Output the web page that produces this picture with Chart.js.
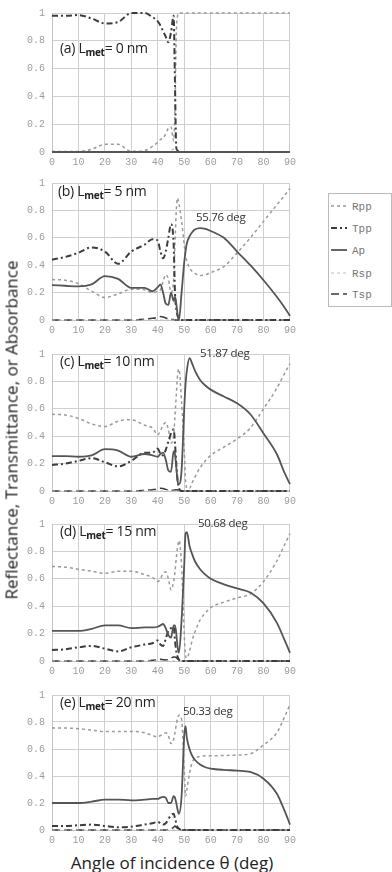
<!DOCTYPE html>
<html>
<head>
<meta charset="utf-8">
<script src="https://cdn.jsdelivr.net/npm/chart.js@4.4.1/dist/chart.umd.min.js"></script>
<style>
  body { margin: 0; background: #fff; }
  #wrap { position: relative; width: 392px; height: 872px; overflow: hidden; font-family: "Open Sans", sans-serif; }
  #wrap canvas { position: absolute; left: 0; }
  .plabel { position: absolute; font-size: 14px; color: #222; white-space: nowrap; letter-spacing: -0.3px; line-height: 16px; }
  .plabel sub { font-size: 10px; font-weight: 700; vertical-align: -3px; line-height: 0; }
  .peak { position: absolute; font-size: 11.5px; color: #333; white-space: nowrap; letter-spacing: -0.3px; line-height: 14px; }
  #ytitle { position: absolute; left: 11px; top: 430px; transform: translate(-50%, -50%) rotate(-90deg); font-size: 17px; color: #222; white-space: nowrap; }
  #xtitle { position: absolute; left: 172px; top: 862px; transform: translate(-50%, -50%); font-size: 17px; color: #222; white-space: nowrap; }
  #legend { position: absolute; left: 328px; top: 193px; }
  #legend text { font-family: "Liberation Mono", "DejaVu Sans Mono", monospace; font-size: 11px; fill: #777; }
</style>
</head>
<body>
<div id="wrap">
  <canvas id="c0" width="300" height="170" style="top:0px"></canvas>
  <canvas id="c1" width="300" height="168" style="top:170px"></canvas>
  <canvas id="c2" width="300" height="168" style="top:341px"></canvas>
  <canvas id="c3" width="300" height="168" style="top:511px"></canvas>
  <canvas id="c4" width="300" height="166" style="top:682px"></canvas>
  <div id="ytitle">Reflectance, Transmittance, or Absorbance</div>
  <div id="xtitle">Angle of incidence θ (deg)</div>
  <svg id="legend" width="64" height="114"></svg>
</div>
<script>
// angle of incidence (deg), shared by every curve
var angles = [0, 5, 10, 15, 20, 25, 30, 35, 38, 40, 41, 42, 43, 44, 45, 46, 46.5, 47, 47.5, 48, 49,
  50, 50.5, 51, 52, 53, 54, 56, 58, 60, 65, 70, 75, 80, 85, 88, 90];

var thickness = [0, 5, 10, 15, 20];
var panelLetters = ['a', 'b', 'c', 'd', 'e'];
var peakLabels = [null, '55.76 deg', '51.87 deg', '50.68 deg', '50.33 deg'];
var yTicks = [0, 0.2, 0.4, 0.6, 0.8, 1];
var seriesNames = ['Rpp', 'Tpp', 'Ap', 'Rsp', 'Tsp'];

// (a) Lmet = 0 nm
var rpp0 = [0.005, 0.003, 0.004, 0.02, 0.055, 0.055, 0.005, 0.01, 0.04, 0.07, 0.09, 0.1, 0.13, 0.17, 0.18, 0.08, 0.3, 0.85, 0.98, 1, 1,
  1, 1, 1, 1, 1, 1, 1, 1, 1, 1, 1, 1, 1, 1, 1, 1];
var tpp0 = [0.98, 0.98, 0.985, 0.96, 0.925, 0.935, 1, 1, 0.97, 0.94, 0.91, 0.87, 0.83, 0.79, 0.86, 0.98, 0.5, 0.03, 0.01, 0, 0,
  0, 0, 0, 0, 0, 0, 0, 0, 0, 0, 0, 0, 0, 0, 0, 0];
var ap0 = [0, 0, 0, 0, 0, 0, 0, 0, 0, 0, 0, 0, 0, 0, 0, 0, 0, 0, 0, 0, 0,
  0, 0, 0, 0, 0, 0, 0, 0, 0, 0, 0, 0, 0, 0, 0, 0];
var rsp0 = [0, 0, 0, 0, 0, 0, 0, 0, 0, 0, 0, 0, 0, 0, 0.01, 0.02, 0.01, 0, 0, 0, 0,
  0, 0, 0, 0, 0, 0, 0, 0, 0, 0, 0, 0, 0, 0, 0, 0];
var tsp0 = [0, 0, 0, 0, 0, 0, 0, 0, 0, 0, 0, 0, 0, 0, 0, 0, 0, 0, 0, 0, 0,
  0, 0, 0, 0, 0, 0, 0, 0, 0, 0, 0, 0, 0, 0, 0, 0];

// (b) Lmet = 5 nm
var rpp5 = [0.295, 0.29, 0.265, 0.21, 0.165, 0.19, 0.225, 0.22, 0.2, 0.21, 0.22, 0.28, 0.33, 0.3, 0.2, 0.3, 0.55, 0.8, 0.89, 0.85, 0.72,
  0.55, 0.47, 0.43, 0.38, 0.355, 0.34, 0.325, 0.33, 0.345, 0.39, 0.49, 0.6, 0.72, 0.84, 0.91, 0.96];
var tpp5 = [0.44, 0.46, 0.49, 0.53, 0.5, 0.41, 0.5, 0.55, 0.59, 0.58, 0.5, 0.45, 0.5, 0.6, 0.7, 0.55, 0.2, 0.08, 0.03, 0.01, 0,
  0, 0, 0, 0, 0, 0, 0, 0, 0, 0, 0, 0, 0, 0, 0, 0];
var ap5 = [0.255, 0.25, 0.245, 0.26, 0.32, 0.3, 0.235, 0.235, 0.21, 0.24, 0.26, 0.2, 0.12, 0.11, 0.2, 0.14, 0.17, 0.12, 0.04, 0, 0.2,
  0.42, 0.5, 0.56, 0.61, 0.64, 0.66, 0.67, 0.665, 0.65, 0.6, 0.5, 0.4, 0.29, 0.17, 0.09, 0.03];
var rsp5 = [0, 0, 0, 0, 0, 0, 0, 0, 0, 0, 0, 0, 0, 0, 0, 0, 0, 0, 0, 0, 0,
  0, 0, 0, 0, 0, 0, 0, 0, 0, 0, 0, 0, 0, 0, 0, 0];
var tsp5 = [0, 0, 0, 0, 0, 0, 0, 0.005, 0.012, 0.02, 0.025, 0.022, 0.015, 0.01, 0.005, 0.003, 0, 0, 0, 0, 0,
  0, 0, 0, 0, 0, 0, 0, 0, 0, 0, 0, 0, 0, 0, 0, 0];

// (c) Lmet = 10 nm
var rpp10 = [0.56, 0.555, 0.53, 0.49, 0.47, 0.51, 0.52, 0.48, 0.46, 0.41, 0.44, 0.48, 0.5, 0.45, 0.35, 0.4, 0.55, 0.7, 0.85, 0.89, 0.65,
  0.3, 0.08, 0.02, 0.02, 0.06, 0.1, 0.17, 0.22, 0.26, 0.32, 0.38, 0.46, 0.6, 0.75, 0.86, 0.93];
var tpp10 = [0.19, 0.2, 0.22, 0.24, 0.21, 0.18, 0.22, 0.28, 0.28, 0.31, 0.27, 0.26, 0.3, 0.36, 0.42, 0.45, 0.35, 0.2, 0.08, 0.02, 0,
  0, 0, 0, 0, 0, 0, 0, 0, 0, 0, 0, 0, 0, 0, 0, 0];
var ap10 = [0.255, 0.255, 0.25, 0.26, 0.305, 0.295, 0.25, 0.27, 0.26, 0.25, 0.27, 0.28, 0.23, 0.15, 0.14, 0.29, 0.27, 0.17, 0.07, 0.05, 0.15,
  0.6, 0.78, 0.88, 0.97, 0.93, 0.88, 0.81, 0.77, 0.74, 0.69, 0.64, 0.56, 0.42, 0.27, 0.13, 0.05];
var rsp10 = [0, 0, 0, 0, 0, 0, 0, 0, 0, 0, 0, 0, 0, 0, 0, 0, 0, 0, 0, 0, 0,
  0, 0, 0, 0, 0, 0, 0, 0, 0, 0, 0, 0, 0, 0, 0, 0];
var tsp10 = [0, 0, 0, 0, 0, 0, 0, 0.005, 0.01, 0.015, 0.02, 0.018, 0.012, 0.008, 0.005, 0.005, 0.008, 0.01, 0.008, 0.005, 0,
  0, 0, 0, 0, 0, 0, 0, 0, 0, 0, 0, 0, 0, 0, 0, 0];

// (d) Lmet = 15 nm
var rpp15 = [0.69, 0.685, 0.67, 0.655, 0.64, 0.655, 0.655, 0.63, 0.61, 0.58, 0.6, 0.64, 0.65, 0.6, 0.52, 0.58, 0.65, 0.75, 0.83, 0.88, 0.7,
  0.2, 0.04, 0.02, 0.07, 0.15, 0.21, 0.3, 0.35, 0.39, 0.43, 0.46, 0.49, 0.58, 0.73, 0.85, 0.93];
var tpp15 = [0.08, 0.085, 0.1, 0.11, 0.09, 0.07, 0.1, 0.12, 0.13, 0.15, 0.12, 0.11, 0.16, 0.22, 0.24, 0.25, 0.15, 0.07, 0.03, 0.01, 0,
  0, 0, 0, 0, 0, 0, 0, 0, 0, 0, 0, 0, 0, 0, 0, 0];
var ap15 = [0.22, 0.22, 0.22, 0.235, 0.26, 0.26, 0.24, 0.245, 0.245, 0.25, 0.26, 0.27, 0.24, 0.19, 0.17, 0.26, 0.26, 0.2, 0.1, 0.06, 0.3,
  0.7, 0.93, 0.94, 0.84, 0.78, 0.73, 0.67, 0.63, 0.6, 0.56, 0.53, 0.5, 0.42, 0.28, 0.15, 0.06];
var rsp15 = [0, 0, 0, 0, 0, 0, 0, 0, 0, 0, 0, 0, 0, 0, 0, 0, 0, 0, 0, 0, 0,
  0, 0, 0, 0, 0, 0, 0, 0, 0, 0, 0, 0, 0, 0, 0, 0];
var tsp15 = [0, 0, 0, 0, 0, 0, 0, 0, 0.005, 0.01, 0.012, 0.01, 0.008, 0.01, 0.02, 0.03, 0.03, 0.025, 0.015, 0.005, 0,
  0, 0, 0, 0, 0, 0, 0, 0, 0, 0, 0, 0, 0, 0, 0, 0];

// (e) Lmet = 20 nm
var rpp20 = [0.755, 0.755, 0.75, 0.74, 0.73, 0.73, 0.73, 0.72, 0.7, 0.69, 0.7, 0.71, 0.72, 0.7, 0.64, 0.67, 0.72, 0.78, 0.83, 0.85, 0.82,
  0.45, 0.25, 0.3, 0.42, 0.5, 0.53, 0.545, 0.55, 0.55, 0.552, 0.555, 0.565, 0.63, 0.72, 0.84, 0.93];
var tpp20 = [0.03, 0.03, 0.035, 0.04, 0.03, 0.02, 0.025, 0.04, 0.05, 0.06, 0.05, 0.04, 0.05, 0.08, 0.11, 0.12, 0.09, 0.05, 0.02, 0.01, 0,
  0, 0, 0, 0, 0, 0, 0, 0, 0, 0, 0, 0, 0, 0, 0, 0];
var ap20 = [0.2, 0.2, 0.2, 0.21, 0.225, 0.225, 0.22, 0.225, 0.23, 0.23, 0.24, 0.245, 0.24, 0.2, 0.2, 0.25, 0.24, 0.2, 0.15, 0.12, 0.25,
  0.7, 0.77, 0.68, 0.6, 0.55, 0.52, 0.485, 0.465, 0.455, 0.445, 0.44, 0.43, 0.38, 0.27, 0.14, 0.04];
var rsp20 = [0, 0, 0, 0, 0, 0, 0, 0, 0, 0, 0, 0, 0, 0, 0, 0, 0, 0, 0, 0, 0,
  0, 0, 0, 0, 0, 0, 0, 0, 0, 0, 0, 0, 0, 0, 0, 0];
var tsp20 = [0, 0, 0, 0, 0, 0, 0, 0, 0, 0, 0, 0, 0, 0.005, 0.01, 0.02, 0.03, 0.02, 0.01, 0.005, 0,
  0, 0, 0, 0, 0, 0, 0, 0, 0, 0, 0, 0, 0, 0, 0, 0];

var panels = [
  [rpp0, tpp0, ap0, rsp0, tsp0],
  [rpp5, tpp5, ap5, rsp5, tsp5],
  [rpp10, tpp10, ap10, rsp10, tsp10],
  [rpp15, tpp15, ap15, rsp15, tsp15],
  [rpp20, tpp20, ap20, rsp20, tsp20]
];

// line look for Rpp, Tpp, Ap, Rsp, Tsp
var lineStyles = [
  { color: '#9a9a9a', width: 1.5, dash: [3, 3] },
  { color: '#3c3c3c', width: 2, dash: [6, 3, 2, 3] },
  { color: '#555555', width: 1.8, dash: [] },
  { color: '#bbbbbb', width: 1.2, dash: [3, 3] },
  { color: '#3a3a3a', width: 1.5, dash: [8, 4] }
];

// text placed over each panel (label left/top, peak label left/top)
var labelPos = [[60, 40], [58, 183], [60, 353], [60, 523], [60, 694]];
var peakPos = [null, [196, 210], [200, 346], [198, 516], [183, 704]];

var tickFont = { family: '"Liberation Mono", monospace', size: 10 };

function buildDatasets(series) {
  var sets = [];
  // Ap first so it sits on top
  [2, 1, 0, 3, 4].forEach(function (k) {
    var st = lineStyles[k];
    sets.push({
      label: seriesNames[k],
      data: angles.map(function (a, i) { return { x: a, y: series[k][i] }; }),
      borderColor: st.color,
      borderWidth: st.width,
      borderDash: st.dash,
      fill: false,
      pointRadius: 0,
      cubicInterpolationMode: 'monotone',
      clip: 3
    });
  });
  return sets;
}

function makePanel(idx) {
  var ctx = document.getElementById('c' + idx);
  return new Chart(ctx, {
    type: 'line',
    data: { datasets: buildDatasets(panels[idx]) },
    options: {
      responsive: false,
      animation: false,
      layout: { padding: { top: 5, right: 7, left: 0, bottom: 0 } },
      plugins: { legend: { display: false }, tooltip: { enabled: false } },
      scales: {
        x: {
          type: 'linear', min: 0, max: 90,
          ticks: { stepSize: 10, color: '#9c9c9c', font: tickFont, padding: 4, maxRotation: 0 },
          grid: { color: '#cfcfcf', drawTicks: false, lineWidth: 1 },
          border: { color: '#c4c4c4' },
          afterFit: function (s) { s.height = 18; }
        },
        y: {
          min: 0, max: 1,
          afterBuildTicks: function (s) { s.ticks = yTicks.map(function (v) { return { value: v }; }); },
          ticks: {
            color: '#9c9c9c', font: tickFont, padding: 7,
            callback: function (v) { return v === 0 ? '0' : v === 1 ? '1' : v.toFixed(1); }
          },
          grid: { color: '#cfcfcf', drawTicks: false, lineWidth: 1 },
          border: { color: '#c4c4c4' },
          afterFit: function (s) { s.width = 52; }
        }
      }
    }
  });
}

var wrap = document.getElementById('wrap');
for (var i = 0; i < panels.length; i++) {
  makePanel(i);
  var lab = document.createElement('div');
  lab.className = 'plabel';
  lab.style.left = labelPos[i][0] + 'px';
  lab.style.top = labelPos[i][1] + 'px';
  lab.innerHTML = '(' + panelLetters[i] + ') L<sub>met</sub>= ' + thickness[i] + ' nm';
  wrap.appendChild(lab);
  if (peakLabels[i]) {
    var pk = document.createElement('div');
    pk.className = 'peak';
    pk.style.left = peakPos[i][0] + 'px';
    pk.style.top = peakPos[i][1] + 'px';
    pk.textContent = peakLabels[i];
    wrap.appendChild(pk);
  }
}

// legend box on the right
var svg = document.getElementById('legend');
var ns = 'http://www.w3.org/2000/svg';
var box = document.createElementNS(ns, 'rect');
box.setAttribute('x', 0.5); box.setAttribute('y', 0.5);
box.setAttribute('width', 63); box.setAttribute('height', 113);
box.setAttribute('fill', '#fff'); box.setAttribute('stroke', '#bbb');
svg.appendChild(box);
var rowY = [13, 35, 57, 80, 101];
seriesNames.forEach(function (name, k) {
  var st = lineStyles[k];
  var ln = document.createElementNS(ns, 'line');
  ln.setAttribute('x1', 3); ln.setAttribute('x2', 19);
  ln.setAttribute('y1', rowY[k]); ln.setAttribute('y2', rowY[k]);
  ln.setAttribute('stroke', st.color);
  ln.setAttribute('stroke-width', st.width);
  if (st.dash.length) ln.setAttribute('stroke-dasharray', st.dash.join(' '));
  svg.appendChild(ln);
  var tx = document.createElementNS(ns, 'text');
  tx.setAttribute('x', 24); tx.setAttribute('y', rowY[k] + 4);
  tx.textContent = name;
  svg.appendChild(tx);
});
</script>
</body>
</html>
